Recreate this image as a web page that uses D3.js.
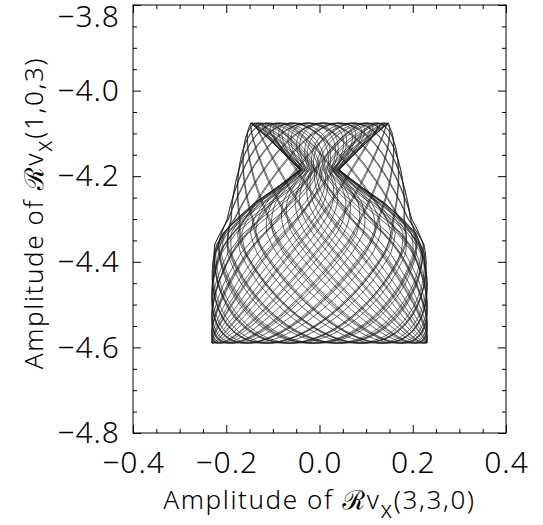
<!DOCTYPE html>
<html>
<head>
<meta charset="utf-8">
<script src="https://cdn.jsdelivr.net/npm/d3@7"></script>
<style>
  body { margin: 0; background: #fff; }
  text { font-family: "Noto Sans", "DejaVu Sans", sans-serif; font-weight: 300; fill: #000; }
</style>
</head>
<body>
<div id="chart"></div>
<script>
// Chart size and plot frame
const width = 543;
const height = 525;
const margin = {top: 5, right: 37, bottom: 92, left: 133};

// Axes
const xDomain = [-0.4, 0.4];
const yDomain = [-4.8, -3.8];
const xTicks = [-0.4, -0.2, 0.0, 0.2, 0.4];
const yTicks = [-3.8, -4.0, -4.2, -4.4, -4.6, -4.8];
const xMinor = [-0.35, -0.3, -0.25, -0.15, -0.1, -0.05, 0.05, 0.1, 0.15, 0.25, 0.3, 0.35];
const yMinor = [-3.85, -3.9, -3.95, -4.05, -4.1, -4.15, -4.25, -4.3, -4.35, -4.45, -4.5, -4.55, -4.65, -4.7, -4.75];

// Orbit extent
const orbitTop = -4.076;
const orbitBottom = -4.590;

// Outer edge of the orbit: half width at each amplitude level
const outerY = [-4.590, -4.45, -4.40, -4.36, -4.33, -4.30, -4.24, -4.20, -4.14, -4.10, -4.076];
const outerW = [0.231, 0.231, 0.229, 0.225, 0.212, 0.198, 0.185, 0.177, 0.165, 0.156, 0.148];

// Inner fold (the "vase" with a neck near -4.185)
const vaseY = [-4.590, -4.45, -4.38, -4.333, -4.30, -4.263, -4.225, -4.185, -4.15, -4.11, -4.076];
const vaseW = [0.231, 0.230, 0.225, 0.207, 0.178, 0.140, 0.090, 0.042, 0.074, 0.112, 0.148];

// Winding numbers and phases of the two sheets of the orbit
const sheetFreq = [[23, 27], [25, 29]];
const sheetPhase = [0.3, 1.1];

const svg = d3.select("#chart")
    .append("svg")
    .attr("width", width)
    .attr("height", height);

const x = d3.scaleLinear()
    .domain(xDomain)
    .range([margin.left, width - margin.right]);

const y = d3.scaleLinear()
    .domain(yDomain)
    .range([height - margin.bottom, margin.top]);

// Build the orbit sheets
const sheets = [[outerY, outerW], [vaseY, vaseW]];
const yc = (orbitTop + orbitBottom) / 2;
const hy = (orbitTop - orbitBottom) / 2;
const nPts = 12000;

const orbits = sheets.map(([ys, ws], k) => {
    const w = d3.scaleLinear().domain(ys).range(ws).clamp(true);
    const [p, q] = sheetFreq[k];
    const pts = [];
    for (let i = 0; i <= nPts; i++) {
        const t = 2 * Math.PI * i / nPts;
        const yy = yc + hy * Math.cos(q * t);
        const xx = w(yy) * Math.sin(p * t + sheetPhase[k]);
        pts.push([xx, yy]);
    }
    return pts;
});

const line = d3.line()
    .x(d => x(d[0]))
    .y(d => y(d[1]));

svg.append("g")
    .selectAll("path")
    .data(orbits)
    .enter().append("path")
    .attr("d", line)
    .attr("fill", "none")
    .attr("stroke", "#1a1a1a")
    .attr("stroke-width", 0.7);

// Frame
svg.append("rect")
    .attr("x", x(xDomain[0]))
    .attr("y", y(yDomain[1]))
    .attr("width", x(xDomain[1]) - x(xDomain[0]))
    .attr("height", y(yDomain[0]) - y(yDomain[1]))
    .attr("fill", "none")
    .attr("stroke", "#000")
    .attr("stroke-width", 1);

const fmt = d => (d < 0 ? "\u2212" : "") + Math.abs(d).toFixed(1);
const major = 8, minor = 4;

function styleAxis(g) {
    g.select(".domain").remove();
    g.selectAll("line").attr("stroke", "#000");
    g.selectAll("text").style("font-size", "30px").style("letter-spacing", "1px");
}

// Bottom axis with labels
svg.append("g")
    .attr("transform", `translate(0,${y(yDomain[0])})`)
    .call(d3.axisBottom(x).tickValues(xTicks).tickSize(-major).tickPadding(19).tickFormat(fmt))
    .call(styleAxis);
svg.append("g")
    .attr("transform", `translate(0,${y(yDomain[0])})`)
    .call(d3.axisBottom(x).tickValues(xMinor).tickSize(-minor).tickFormat(""))
    .call(styleAxis);

// Top axis ticks
svg.append("g")
    .attr("transform", `translate(0,${y(yDomain[1])})`)
    .call(d3.axisTop(x).tickValues(xTicks).tickSize(-major).tickFormat(""))
    .call(styleAxis);
svg.append("g")
    .attr("transform", `translate(0,${y(yDomain[1])})`)
    .call(d3.axisTop(x).tickValues(xMinor).tickSize(-minor).tickFormat(""))
    .call(styleAxis);

// Left axis with labels (top label nudged down so it stays on the page)
svg.append("g")
    .attr("transform", `translate(${x(xDomain[0])},0)`)
    .call(d3.axisLeft(y).tickValues(yTicks).tickSize(-major).tickPadding(13).tickFormat(fmt))
    .call(styleAxis)
    .call(g => g.selectAll(".tick text")
        .filter(d => d === yDomain[1])
        .attr("dy", "0.7em"));
svg.append("g")
    .attr("transform", `translate(${x(xDomain[0])},0)`)
    .call(d3.axisLeft(y).tickValues(yMinor).tickSize(-minor).tickFormat(""))
    .call(styleAxis);

// Right axis ticks
svg.append("g")
    .attr("transform", `translate(${x(xDomain[1])},0)`)
    .call(d3.axisRight(y).tickValues(yTicks).tickSize(-major).tickFormat(""))
    .call(styleAxis);
svg.append("g")
    .attr("transform", `translate(${x(xDomain[1])},0)`)
    .call(d3.axisRight(y).tickValues(yMinor).tickSize(-minor).tickFormat(""))
    .call(styleAxis);

// Axis titles
function title(sel, mode) {
    sel.append("tspan").text("Amplitude of ");
    sel.append("tspan").style("font-style", "italic").text("\u211B");
    sel.append("tspan").text("v");
    sel.append("tspan").attr("dy", 9).style("font-size", "23px").text("x");
    sel.append("tspan").attr("dy", -9).text(mode);
}

svg.append("text")
    .attr("x", (x(xDomain[0]) + x(xDomain[1])) / 2)
    .attr("y", 509)
    .attr("text-anchor", "middle")
    .style("font-size", "26px")
    .style("letter-spacing", "1.6px")
    .call(title, "(3,3,0)");

svg.append("text")
    .attr("transform", `translate(43,${(y(yDomain[0]) + y(yDomain[1])) / 2 - 6}) rotate(-90)`)
    .attr("text-anchor", "middle")
    .style("font-size", "26px")
    .style("letter-spacing", "1.6px")
    .call(title, "(1,0,3)");
</script>
</body>
</html>
